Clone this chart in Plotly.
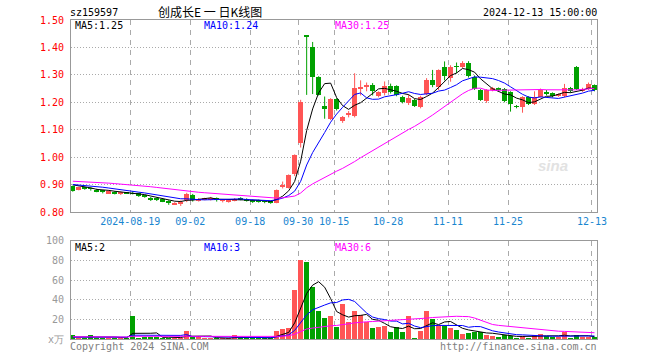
import plotly.graph_objects as go

# ---------------- data ----------------
dates = ["08-05","08-06","08-07","08-08","08-09","08-12","08-13","08-14","08-15","08-16",
         "08-19","08-20","08-21","08-22","08-23","08-26","08-27","08-28","08-29","08-30",
         "09-02","09-03","09-04","09-05","09-06","09-09","09-10","09-11","09-12","09-13",
         "09-18","09-19","09-20","09-23","09-24","09-25","09-26","09-27","09-30","10-08",
         "10-09","10-10","10-11","10-14","10-15","10-16","10-17","10-18","10-21","10-22",
         "10-23","10-24","10-25","10-28","10-29","10-30","10-31","11-01","11-04","11-05",
         "11-06","11-07","11-08","11-11","11-12","11-13","11-14","11-15","11-18","11-19",
         "11-20","11-21","11-22","11-25","11-26","11-27","11-28","11-29","12-02","12-03",
         "12-04","12-05","12-06","12-09","12-10","12-11","12-12","12-13"]

opens = [0.893,0.881,0.889,0.887,0.882,0.878,0.869,0.874,0.868,0.870,
         0.869,0.868,0.860,0.852,0.848,0.846,0.840,0.829,0.830,0.843,
         0.862,0.842,0.846,0.845,0.852,0.841,0.839,0.842,0.851,0.848,
         0.843,0.842,0.840,0.840,0.834,0.890,0.888,0.938,1.052,1.442,
         1.403,1.292,1.187,1.138,1.211,1.131,1.155,1.150,1.252,1.256,
         1.262,1.222,1.234,1.260,1.258,1.221,1.197,1.209,1.182,1.230,
         1.282,1.255,1.330,1.290,1.332,1.330,1.345,1.294,1.244,1.205,
         1.246,1.250,1.249,1.238,1.186,1.182,1.218,1.195,1.221,1.236,
         1.234,1.224,1.222,1.253,1.330,1.244,1.250,1.262]
highs = [0.896,0.892,0.892,0.890,0.885,0.880,0.879,0.876,0.874,0.872,
         0.876,0.870,0.862,0.855,0.852,0.849,0.843,0.836,0.842,0.870,
         0.866,0.851,0.852,0.855,0.853,0.845,0.845,0.851,0.854,0.850,
         0.845,0.845,0.843,0.842,0.882,0.911,0.937,1.010,1.209,1.442,
         1.420,1.295,1.221,1.215,1.215,1.150,1.168,1.306,1.280,1.272,
         1.270,1.240,1.276,1.268,1.262,1.224,1.228,1.212,1.224,1.288,
         1.318,1.320,1.349,1.335,1.345,1.350,1.350,1.298,1.248,1.248,
         1.256,1.254,1.252,1.240,1.190,1.222,1.222,1.240,1.250,1.245,
         1.236,1.232,1.267,1.256,1.332,1.253,1.272,1.265]
lows = [0.874,0.879,0.881,0.878,0.872,0.868,0.866,0.864,0.862,0.866,
        0.864,0.855,0.852,0.840,0.840,0.836,0.826,0.826,0.822,0.836,
        0.838,0.838,0.843,0.842,0.838,0.835,0.834,0.839,0.843,0.838,
        0.833,0.834,0.832,0.830,0.832,0.886,0.886,0.931,1.035,1.227,
        1.230,1.225,1.140,1.135,1.170,1.125,1.145,1.145,1.225,1.240,
        1.225,1.218,1.225,1.232,1.222,1.196,1.190,1.183,1.178,1.225,
        1.255,1.245,1.280,1.275,1.306,1.325,1.290,1.245,1.205,1.198,
        1.240,1.238,1.200,1.166,1.178,1.162,1.190,1.190,1.218,1.225,
        1.218,1.220,1.218,1.235,1.245,1.238,1.245,1.240]
closes = [0.878,0.890,0.884,0.884,0.876,0.874,0.876,0.868,0.870,0.868,
          0.866,0.857,0.856,0.844,0.845,0.840,0.834,0.834,0.838,0.867,
          0.844,0.848,0.849,0.850,0.843,0.843,0.842,0.846,0.846,0.843,
          0.840,0.838,0.837,0.834,0.880,0.900,0.935,1.008,1.202,1.440,
          1.294,1.228,1.176,1.211,1.176,1.148,1.160,1.251,1.257,1.261,
          1.240,1.236,1.260,1.237,1.228,1.200,1.215,1.187,1.221,1.282,
          1.263,1.316,1.296,1.330,1.329,1.345,1.295,1.250,1.209,1.243,
          1.250,1.246,1.203,1.194,1.183,1.218,1.195,1.218,1.246,1.232,
          1.222,1.229,1.252,1.240,1.250,1.250,1.268,1.245]
# volume, in 10k lots
volumes = [3.9,1.5,1.5,3.9,1.5,1.5,1.5,1.5,1.5,0.4,
           23.9,0.5,2.2,2.2,2.2,1.2,1.2,1.2,1.5,8.9,
           2.2,2.2,1.2,0.5,0.5,0.5,1.2,3.9,1.2,1.2,
           1.2,1.2,1.2,1.2,8.9,10.5,11.5,49.9,80.9,78.9,
           52.9,28.9,21.9,23.2,12.9,36.2,17.2,28.9,24.9,17.9,
           11.2,12.2,13.2,7.9,12.2,7.9,23.9,0.4,8.9,28.9,
           20.5,14.5,13.9,11.2,9.9,4.9,6.2,7.9,7.9,3.9,
           3.2,2.2,3.9,2.9,1.2,2.9,1.5,3.9,4.9,2.9,
           2.2,2.2,7.2,1.2,3.9,2.2,2.2,2.2]
# sessions before the visible window, estimated from where the moving averages start
prior_closes = [0.912,0.915,0.918,0.916,0.913,0.917,0.920,0.914,0.911,0.914,
                0.918,0.922,0.925,0.921,0.919,0.923,0.927,0.924,0.920,0.915,
                0.906,0.900,0.898,0.899,0.903,0.905,0.902,0.906,0.904]
prior_volumes = [2.5,3.0,2.2,1.8,2.6,3.1,2.4,2.0,2.8,2.3,
                 2.6,2.1,1.9,2.7,3.0,2.2,2.5,1.8,2.4,2.9,
                 2.0,1.7,2.3,1.6,1.9,1.4,1.6,1.3,1.8]

tick_dates = ["08-19","09-02","09-18","09-30","10-15","10-28","11-11","11-25","12-13"]
tick_labels = ["2024-08-19","09-02","09-18","09-30","10-15","10-28","11-11","11-25","12-13"]
price_ticks = [0.80,0.90,1.00,1.10,1.20,1.30,1.40,1.50]
vol_ticks = [0,20,40,60,80,100]
vol_tick_labels = ["x万","20","40","60","80","100"]

code = "sz159597"
title = "创成长E 一 日K线图"
stamp = "2024-12-13 15:00:00"

# ---------------- styles ----------------
UP = "#FF5555"
DOWN = "#00A000"
MONO = "DejaVu Sans Mono"
CJK = "Noto Sans CJK SC"
GRID = "#AAAAAA"
BORDER = "#999999"

W, H = 660, 360
L, R, T, B = 71, 63, 20, 21
PW, PH = W - L - R, H - T - B


def px(x):
    return (x - L) / PW


def py(y):
    return (H - B - y) / PH


def moving_average(series, prior, n):
    full = list(prior) + list(series)
    off = len(prior)
    out = []
    for i in range(len(series)):
        win = full[max(0, off + i - n + 1): off + i + 1]
        out.append(sum(win) / len(win))
    return out


idx = list(range(len(dates)))
up = [c >= o for o, c in zip(opens, closes)]
colors = [UP if u else DOWN for u in up]
body_base = [min(o, c) for o, c in zip(opens, closes)]
body_h = [max(abs(c - o), 0.003) for o, c in zip(opens, closes)]

fig = go.Figure()

# wicks
for flag, col in ((True, UP), (False, DOWN)):
    wx, wy = [], []
    for i in idx:
        if up[i] == flag:
            wx += [i, i, None]
            wy += [lows[i], highs[i], None]
    fig.add_trace(go.Scatter(x=wx, y=wy, mode="lines", line=dict(color=col, width=1),
                             xaxis="x", yaxis="y", hoverinfo="skip", showlegend=False))

# bodies
fig.add_trace(go.Bar(x=idx, y=body_h, base=body_base, width=0.83, marker=dict(color=colors, line=dict(width=0)),
                     xaxis="x", yaxis="y", showlegend=False))

ma_cfg = [(5, "#000000"), (10, "#0000FF"), (30, "#FF00FF")]
price_ma = {}
for n, col in ma_cfg:
    m = moving_average(closes, prior_closes, n)
    price_ma[n] = m
    fig.add_trace(go.Scatter(x=idx, y=m, mode="lines", line=dict(color=col, width=1),
                             xaxis="x", yaxis="y", hoverinfo="skip", showlegend=False))

# volume
fig.add_trace(go.Bar(x=idx, y=volumes, width=0.83, marker=dict(color=colors, line=dict(width=0)),
                     xaxis="x2", yaxis="y2", showlegend=False))
vol_ma = {}
for n, col in ma_cfg:
    m = moving_average(volumes, prior_volumes, n)
    vol_ma[n] = m
    fig.add_trace(go.Scatter(x=idx, y=m, mode="lines", line=dict(color=col, width=1),
                             xaxis="x2", yaxis="y2", hoverinfo="skip", showlegend=False))

tick_pos = [dates.index(d) - 0.42 for d in tick_dates]
xr = [-0.3, len(dates) - 0.58]

common_x = dict(range=xr, showline=True, linecolor=BORDER, linewidth=1, mirror=True,
                tickvals=tick_pos, showgrid=True, gridcolor=GRID, gridwidth=1, griddash="5px,5px",
                zeroline=False, ticks="", fixedrange=True)

price_dom = [py(212), 1.0]
vol_dom = [0.0, py(240.7)]

fig.update_layout(
    width=W, height=H,
    margin=dict(l=L, r=R, t=T, b=B),
    paper_bgcolor="white", plot_bgcolor="white",
    barmode="overlay", bargap=0,
    showlegend=False,
    xaxis=dict(**common_x, anchor="y", ticktext=tick_labels, showticklabels=True,
               tickfont=dict(family=MONO, size=10, color="#1A86D0")),
    xaxis2=dict(**common_x, anchor="y2", matches="x", showticklabels=False),
    yaxis=dict(domain=price_dom, range=[0.80, 1.50], tickvals=price_ticks,
               ticktext=[f"{v:.2f}" for v in price_ticks],
               tickfont=dict(family=MONO, size=10, color="#FF0000"),
               showline=True, linecolor=BORDER, linewidth=1, mirror=True,
               showgrid=True, gridcolor=GRID, gridwidth=1, griddash="1px,2px",
               zeroline=False, ticks="", ticklabelstandoff=4, fixedrange=True),
    yaxis2=dict(domain=vol_dom, range=[0, 100], tickvals=vol_ticks, ticktext=vol_tick_labels,
                tickfont=dict(family=MONO, size=10, color="#999999"),
                showline=True, linecolor=BORDER, linewidth=1, mirror=True,
                showgrid=True, gridcolor=GRID, gridwidth=1, griddash="1px,2px",
                zeroline=False, ticks="", ticklabelstandoff=4, fixedrange=True),
)


def note(text, x, y, color="#000000", anchor="left", size=10, family=MONO):
    fig.add_annotation(text=text, x=px(x), y=py(y), xref="paper", yref="paper",
                       xanchor=anchor, yanchor="middle", showarrow=False,
                       font=dict(family=family, size=size, color=color), borderpad=0)


note(code, 69, 12.5)
note(title, 209.5, 11.5, anchor="center", size=12, family=CJK)
note(stamp, 597.5, 12.5, anchor="right")

note(f"MA5:{price_ma[5][-1]:.2f}", 74, 26, "#000000")
note(f"MA10:{price_ma[10][-1]:.2f}", 203, 26, "#0000FF")
note(f"MA30:{price_ma[30][-1]:.2f}", 334, 26, "#FF00FF")

note(f"MA5:{vol_ma[5][-1]:.0f}", 74, 247, "#000000")
note(f"MA10:{vol_ma[10][-1]:.0f}", 203, 247, "#0000FF")
note(f"MA30:{vol_ma[30][-1]:.0f}", 334, 247, "#FF00FF")

note("Copyright 2024 SINA.COM", 69, 346, "#808080")
note("http://finance.sina.com.cn", 597.5, 346, "#808080", anchor="right")

# faint watermark
fig.add_annotation(text="<b><i>sina</i></b>", x=px(570), y=py(165), xref="paper", yref="paper",
                   showarrow=False, font=dict(family="Liberation Sans", size=15, color="#E2E2E2"))

fig.write_html("out.html")
